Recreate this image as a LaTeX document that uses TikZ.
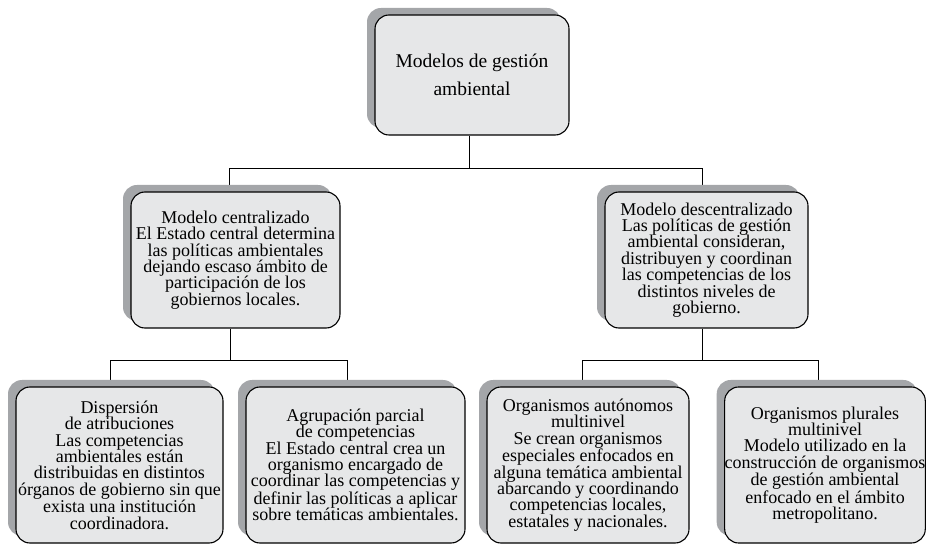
\documentclass[tikz,border=0pt]{standalone}
\usepackage{fontspec}
\setmainfont{Liberation Serif}
\usetikzlibrary{shadows,backgrounds}

\definecolor{boxfill}{HTML}{E6E7E8}
\definecolor{shadowgray}{HTML}{A4A6A9}

\tikzset{
  card/.style={
    draw=black, line width=1.1pt, fill=boxfill,
    rounded corners=14pt, inner sep=0pt, align=center,
    copy shadow={shadow xshift=-8pt, shadow yshift=7pt,
                 fill=shadowgray, draw=none},
    font=\fontsize{18}{16.4}\selectfont
  },
  titlecard/.style={card, font=\fontsize{19.5}{28}\selectfont},
  link/.style={draw=black, line width=0.8pt}
}

\begin{document}
\begin{tikzpicture}[x=1pt,y=1pt]
\useasboundingbox (0,0) rectangle (927,-545);

% root
\node[titlecard, minimum width=194pt, minimum height=120pt] (root) at (472,-75)
  {Modelos de gestión\\ambiental};

% second level
\node[card, minimum width=209pt, minimum height=136pt] (cen) at (235.5,-260)
  {Modelo centralizado\\El Estado central determina\\las políticas ambientales\\dejando escaso ámbito de\\participación de los\\gobiernos locales.};
\node[card, minimum width=203pt, minimum height=136pt] (des) at (706.5,-260)
  {Modelo descentralizado\\Las políticas de gestión\\ambiental consideran,\\distribuyen y coordinan\\las competencias de los\\distintos niveles de\\gobierno.};

% third level
\node[card, minimum width=207pt, minimum height=156pt] (dis) at (119.5,-465)
  {Dispersión\\de atribuciones\\Las competencias\\ambientales están\\distribuidas en distintos\\órganos de gobierno sin que\\exista una institución\\coordinadora.};
\node[card, minimum width=219pt, minimum height=156pt] (agr) at (355.5,-465)
  {Agrupación parcial\\de competencias\\El Estado central crea un\\organismo encargado de\\coordinar las competencias y\\definir las políticas a aplicar\\sobre temáticas ambientales.};
\node[card, minimum width=202pt, minimum height=156pt] (aut) at (588,-465)
  {Organismos autónomos\\multinivel\\Se crean organismos\\especiales enfocados en\\alguna temática ambiental\\abarcando y coordinando\\competencias locales,\\estatales y nacionales.};
\node[card, minimum width=200pt, minimum height=156pt] (plu) at (825,-465)
  {Organismos plurales\\multinivel\\Modelo utilizado en la\\construcción de organismos\\de gestión ambiental\\enfocado en el ámbito\\metropolitano.};

% tree connectors, kept behind the boxes
\begin{scope}[on background layer]
  \draw[link] ([xshift=-3pt]root.south) -- ++(0,-33) coordinate (bus1)
    -| ([xshift=-6pt]cen.north);
  \draw[link] (bus1) -| ([xshift=-4pt]des.north);
  \draw[link] ([xshift=-5pt]cen.south) -- ++(0,-32) coordinate (bus2)
    -| ([xshift=-9pt]dis.north);
  \draw[link] (bus2) -| ([xshift=-8pt]agr.north);
  \draw[link] ([xshift=-4pt]des.south) -- ++(0,-32) coordinate (bus3)
    -| ([xshift=-6pt]aut.north);
  \draw[link] (bus3) -| ([xshift=-7pt]plu.north);
\end{scope}
\end{tikzpicture}
\end{document}
